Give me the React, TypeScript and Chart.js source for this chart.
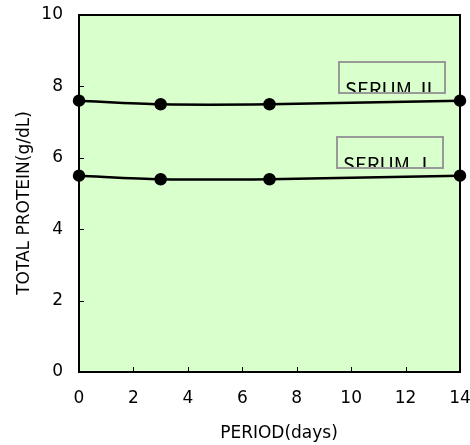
import React, { useEffect, useRef } from "react";
import { Chart, registerables } from "chart.js";

Chart.register(...registerables);

const days = [0, 3, 7, 14];
const serum2 = [7.6, 7.5, 7.5, 7.6];
const serum1 = [5.5, 5.4, 5.4, 5.5];
const seriesNames = ["SERUM \u2161", "SERUM \u2160"];
const xTicks = [0, 2, 4, 6, 8, 10, 12, 14];
const yTicks = [0, 2, 4, 6, 8, 10];
const xTitle = "PERIOD(days)";
const yTitle = "TOTAL PROTEIN(g/dL)";

const FONT = "'DejaVu Sans', 'Noto Sans CJK JP', sans-serif";
const BOXFONT = "'Noto Sans CJK JP', sans-serif";

const decorPlugin = {
  id: "decor",
  beforeDraw(chart: any) {
    const { ctx, chartArea: a } = chart;
    ctx.save();
    ctx.fillStyle = "#D9FFCC";
    ctx.fillRect(a.left, a.top, a.right - a.left, a.bottom - a.top);
    ctx.restore();
  },
  afterDatasetsDraw(chart: any) {
    const { ctx, chartArea: a, scales } = chart;
    const xs = scales.x;
    const ys = scales.y;
    ctx.save();
    ctx.strokeStyle = "#000";
    ctx.lineWidth = 1;
    ctx.beginPath();
    xTicks.forEach((v) => {
      const px = Math.round(xs.getPixelForValue(v)) + 0.5;
      ctx.moveTo(px, a.bottom);
      ctx.lineTo(px, a.bottom - 5);
    });
    yTicks.forEach((v) => {
      const py = Math.round(ys.getPixelForValue(v)) + 0.5;
      ctx.moveTo(a.left, py);
      ctx.lineTo(a.left + 5, py);
    });
    ctx.stroke();
    ctx.lineWidth = 2;
    ctx.strokeRect(a.left, a.top, a.right - a.left, a.bottom - a.top);

    const boxes = [
      { name: seriesNames[0], x: a.right - 121, y: 62 },
      { name: seriesNames[1], x: a.right - 123, y: 137 },
    ];
    boxes.forEach((b) => {
      const w = 106;
      const h = 31;
      ctx.save();
      ctx.beginPath();
      ctx.rect(b.x, b.y, w, h);
      ctx.clip();
      ctx.fillStyle = "#000";
      ctx.font = "20px " + BOXFONT;
      ctx.textAlign = "left";
      ctx.textBaseline = "alphabetic";
      ctx.fillText(b.name, b.x + 6, b.y + 35);
      ctx.restore();
      ctx.strokeStyle = "#999";
      ctx.lineWidth = 2;
      ctx.strokeRect(b.x, b.y, w, h);
    });

    ctx.fillStyle = "#000";
    ctx.font = "17px " + FONT;
    ctx.textAlign = "center";
    ctx.textBaseline = "middle";
    ctx.fillText(xTitle, 279, 434);
    ctx.translate(25, 203);
    ctx.rotate(-Math.PI / 2);
    ctx.fillText(yTitle, 0, 0);
    ctx.restore();
  },
};

export default function App() {
  const ref = useRef<HTMLCanvasElement>(null);
  useEffect(() => {
    if (!ref.current) return;
    const mk = (data: number[]) => ({
      data: days.map((d, i) => ({ x: d, y: data[i] })),
      borderColor: "#000",
      backgroundColor: "#000",
      borderWidth: 2.5,
      pointRadius: 5,
      pointBackgroundColor: "#000",
      pointBorderColor: "#000",
      tension: 0.3,
      clip: false as any,
    });
    const chart = new Chart(ref.current, {
      type: "line",
      data: {
        datasets: [
          { label: seriesNames[0], ...mk(serum2) },
          { label: seriesNames[1], ...mk(serum1) },
        ],
      },
      plugins: [decorPlugin],
      options: {
        animation: false,
        responsive: false,
        maintainAspectRatio: false,
        layout: { padding: { left: 0, top: 15, right: 10, bottom: 0 } },
        plugins: { legend: { display: false }, tooltip: { enabled: false } },
        scales: {
          x: {
            type: "linear",
            min: 0,
            max: 14,
            afterBuildTicks: (s: any) => {
              s.ticks = xTicks.map((v) => ({ value: v }));
            },
            afterFit: (s: any) => {
              s.height = 73;
              s.paddingLeft = 0;
              s.paddingRight = 0;
            },
            grid: { display: false, drawTicks: false },
            border: { display: false },
            ticks: {
              color: "#000",
              font: { size: 17, family: FONT },
              padding: 16,
              maxRotation: 0,
              autoSkip: false,
            },
          },
          y: {
            type: "linear",
            min: 0,
            max: 10,
            afterBuildTicks: (s: any) => {
              s.ticks = yTicks.map((v) => ({ value: v }));
            },
            afterFit: (s: any) => {
              s.width = 79;
              s.paddingTop = 0;
              s.paddingBottom = 0;
            },
            grid: { display: false, drawTicks: false },
            border: { display: false },
            ticks: {
              color: "#000",
              font: { size: 17, family: FONT },
              padding: 16,
              autoSkip: false,
            },
          },
        },
      },
    });
    return () => chart.destroy();
  }, []);
  return (
    <div style={{ position: "fixed", left: 0, top: 0, width: 470, height: 445 }}>
      <canvas ref={ref} width={470} height={445} style={{ width: 470, height: 445 }} />
    </div>
  );
}
